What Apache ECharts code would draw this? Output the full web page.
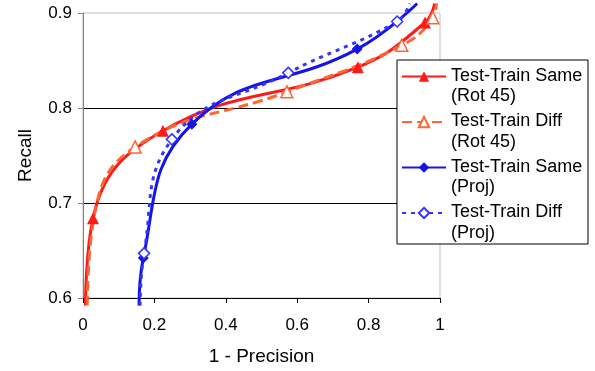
<!DOCTYPE html>
<html>
<head>
<meta charset="utf-8">
<script src="https://cdn.jsdelivr.net/npm/echarts@6/dist/echarts.min.js"></script>
<style>
    html, body { margin: 0; padding: 0; background: #fff; }
    #chart { width: 595px; height: 371px; }
</style>
</head>
<body>
<div id="chart"></div>
<script>
// first and last points are the line ends (no marker)
var sameRotX = [0.007, 0.028, 0.224, 0.77, 0.958, 0.985];
var sameRotY = [0.592, 0.684, 0.776, 0.843, 0.89, 0.91];

var diffRotX = [0.012, 0.03, 0.146, 0.571, 0.893, 0.98, 0.99];
var diffRotY = [0.592, 0.683, 0.759, 0.817, 0.866, 0.895, 0.91];

var sameProjX = [0.157, 0.169, 0.305, 0.768, 0.936];
var sameProjY = [0.592, 0.642, 0.783, 0.862, 0.91];

var diffProjX = [0.16, 0.171, 0.249, 0.575, 0.88, 0.915];
var diffProjY = [0.592, 0.647, 0.767, 0.837, 0.891, 0.91];

var seriesNames = ['Test-Train Same (Rot 45)', 'Test-Train Diff (Rot 45)', 'Test-Train Same (Proj)', 'Test-Train Diff (Proj)'];
var xTicks = [0, 0.2, 0.4, 0.6, 0.8, 1];
var yTicks = [0.6, 0.7, 0.8, 0.9];

function points(xs, ys, hidden) {
    return xs.map(function (x, i) {
        var item = {value: [x, ys[i]]};
        if (i === 0 || i === xs.length - 1 || hidden.indexOf(i) >= 0) {
            item.symbol = 'none';
        }
        return item;
    });
}

function lineSeries(name, data, color, dash, symbol, hollow) {
    return {
        name: name,
        type: 'line',
        data: data,
        smooth: 0.45,
        clip: false,
        symbol: symbol,
        symbolSize: symbol === 'triangle' ? 12 : 11,
        showAllSymbol: true,
        lineStyle: {color: color, width: 3, type: dash, cap: 'butt'},
        itemStyle: hollow ? {color: '#fff', borderColor: color, borderWidth: 1.5} : {color: color},
        emphasis: {disabled: true}
    };
}

var chart = echarts.init(document.getElementById('chart'), null, {renderer: 'canvas'});
var option = {
    animation: false,
    backgroundColor: '#fff',
    textStyle: {fontFamily: 'Liberation Sans, Arial, sans-serif', color: '#000'},
    grid: {left: 83, right: 155, top: 13, bottom: 73, show: true, borderColor: '#c0c0c0', borderWidth: 1},
    xAxis: {
        type: 'value',
        min: xTicks[0],
        max: xTicks[xTicks.length - 1],
        interval: 0.2,
        name: '1 - Precision',
        nameLocation: 'middle',
        nameGap: 49,
        nameTextStyle: {fontSize: 19, color: '#000'},
        axisLine: {lineStyle: {color: '#000', width: 1}},
        axisTick: {length: 5, lineStyle: {color: '#000'}},
        axisLabel: {fontSize: 17, color: '#000', margin: 19},
        splitLine: {show: false}
    },
    yAxis: {
        type: 'value',
        min: yTicks[0],
        max: yTicks[yTicks.length - 1],
        interval: 0.1,
        name: 'Recall',
        nameLocation: 'middle',
        nameGap: 48,
        nameTextStyle: {fontSize: 19, color: '#000'},
        axisLine: {show: true, lineStyle: {color: '#808080', width: 1}},
        axisTick: {show: true, length: 5, lineStyle: {color: '#808080'}},
        axisLabel: {fontSize: 17, color: '#000', margin: 11, formatter: function (v) { return v.toFixed(1); }},
        splitLine: {show: true, showMinLine: false, showMaxLine: false, lineStyle: {color: '#000', width: 1}}
    },
    legend: {
        orient: 'vertical',
        left: 401,
        top: 67,
        padding: 0,
        itemGap: 7,
        itemWidth: 44,
        itemHeight: 13,
        data: seriesNames,
        // icon sits on the first text line, like the original legend
        formatter: function (name) {
            var parts = name.split(' (');
            return '{a|' + parts[0] + '}\n{b|(' + parts[1] + '}';
        },
        textStyle: {
            color: '#000',
            rich: {
                a: {fontSize: 18, lineHeight: 40, color: '#000', fontFamily: 'Liberation Sans, Arial, sans-serif'},
                b: {fontSize: 18, lineHeight: 1, color: '#000', fontFamily: 'Liberation Sans, Arial, sans-serif'}
            }
        }
    },
    graphic: [{
        type: 'rect',
        z: 3,
        shape: {x: 397, y: 60, width: 191, height: 184},
        style: {fill: '#fff', stroke: '#000', lineWidth: 1}
    }],
    series: [
        lineSeries(seriesNames[0], points(sameRotX, sameRotY, []), '#ff1a1a', 'solid', 'triangle', false),
        lineSeries(seriesNames[1], points(diffRotX, diffRotY, [1]), '#ff6633', [10, 5], 'triangle', true),
        lineSeries(seriesNames[2], points(sameProjX, sameProjY, []), '#1414e6', 'solid', 'diamond', false),
        lineSeries(seriesNames[3], points(diffProjX, diffProjY, []), '#3333ff', [4, 5], 'diamond', true)
    ]
};
chart.setOption(option);
</script>
</body>
</html>
